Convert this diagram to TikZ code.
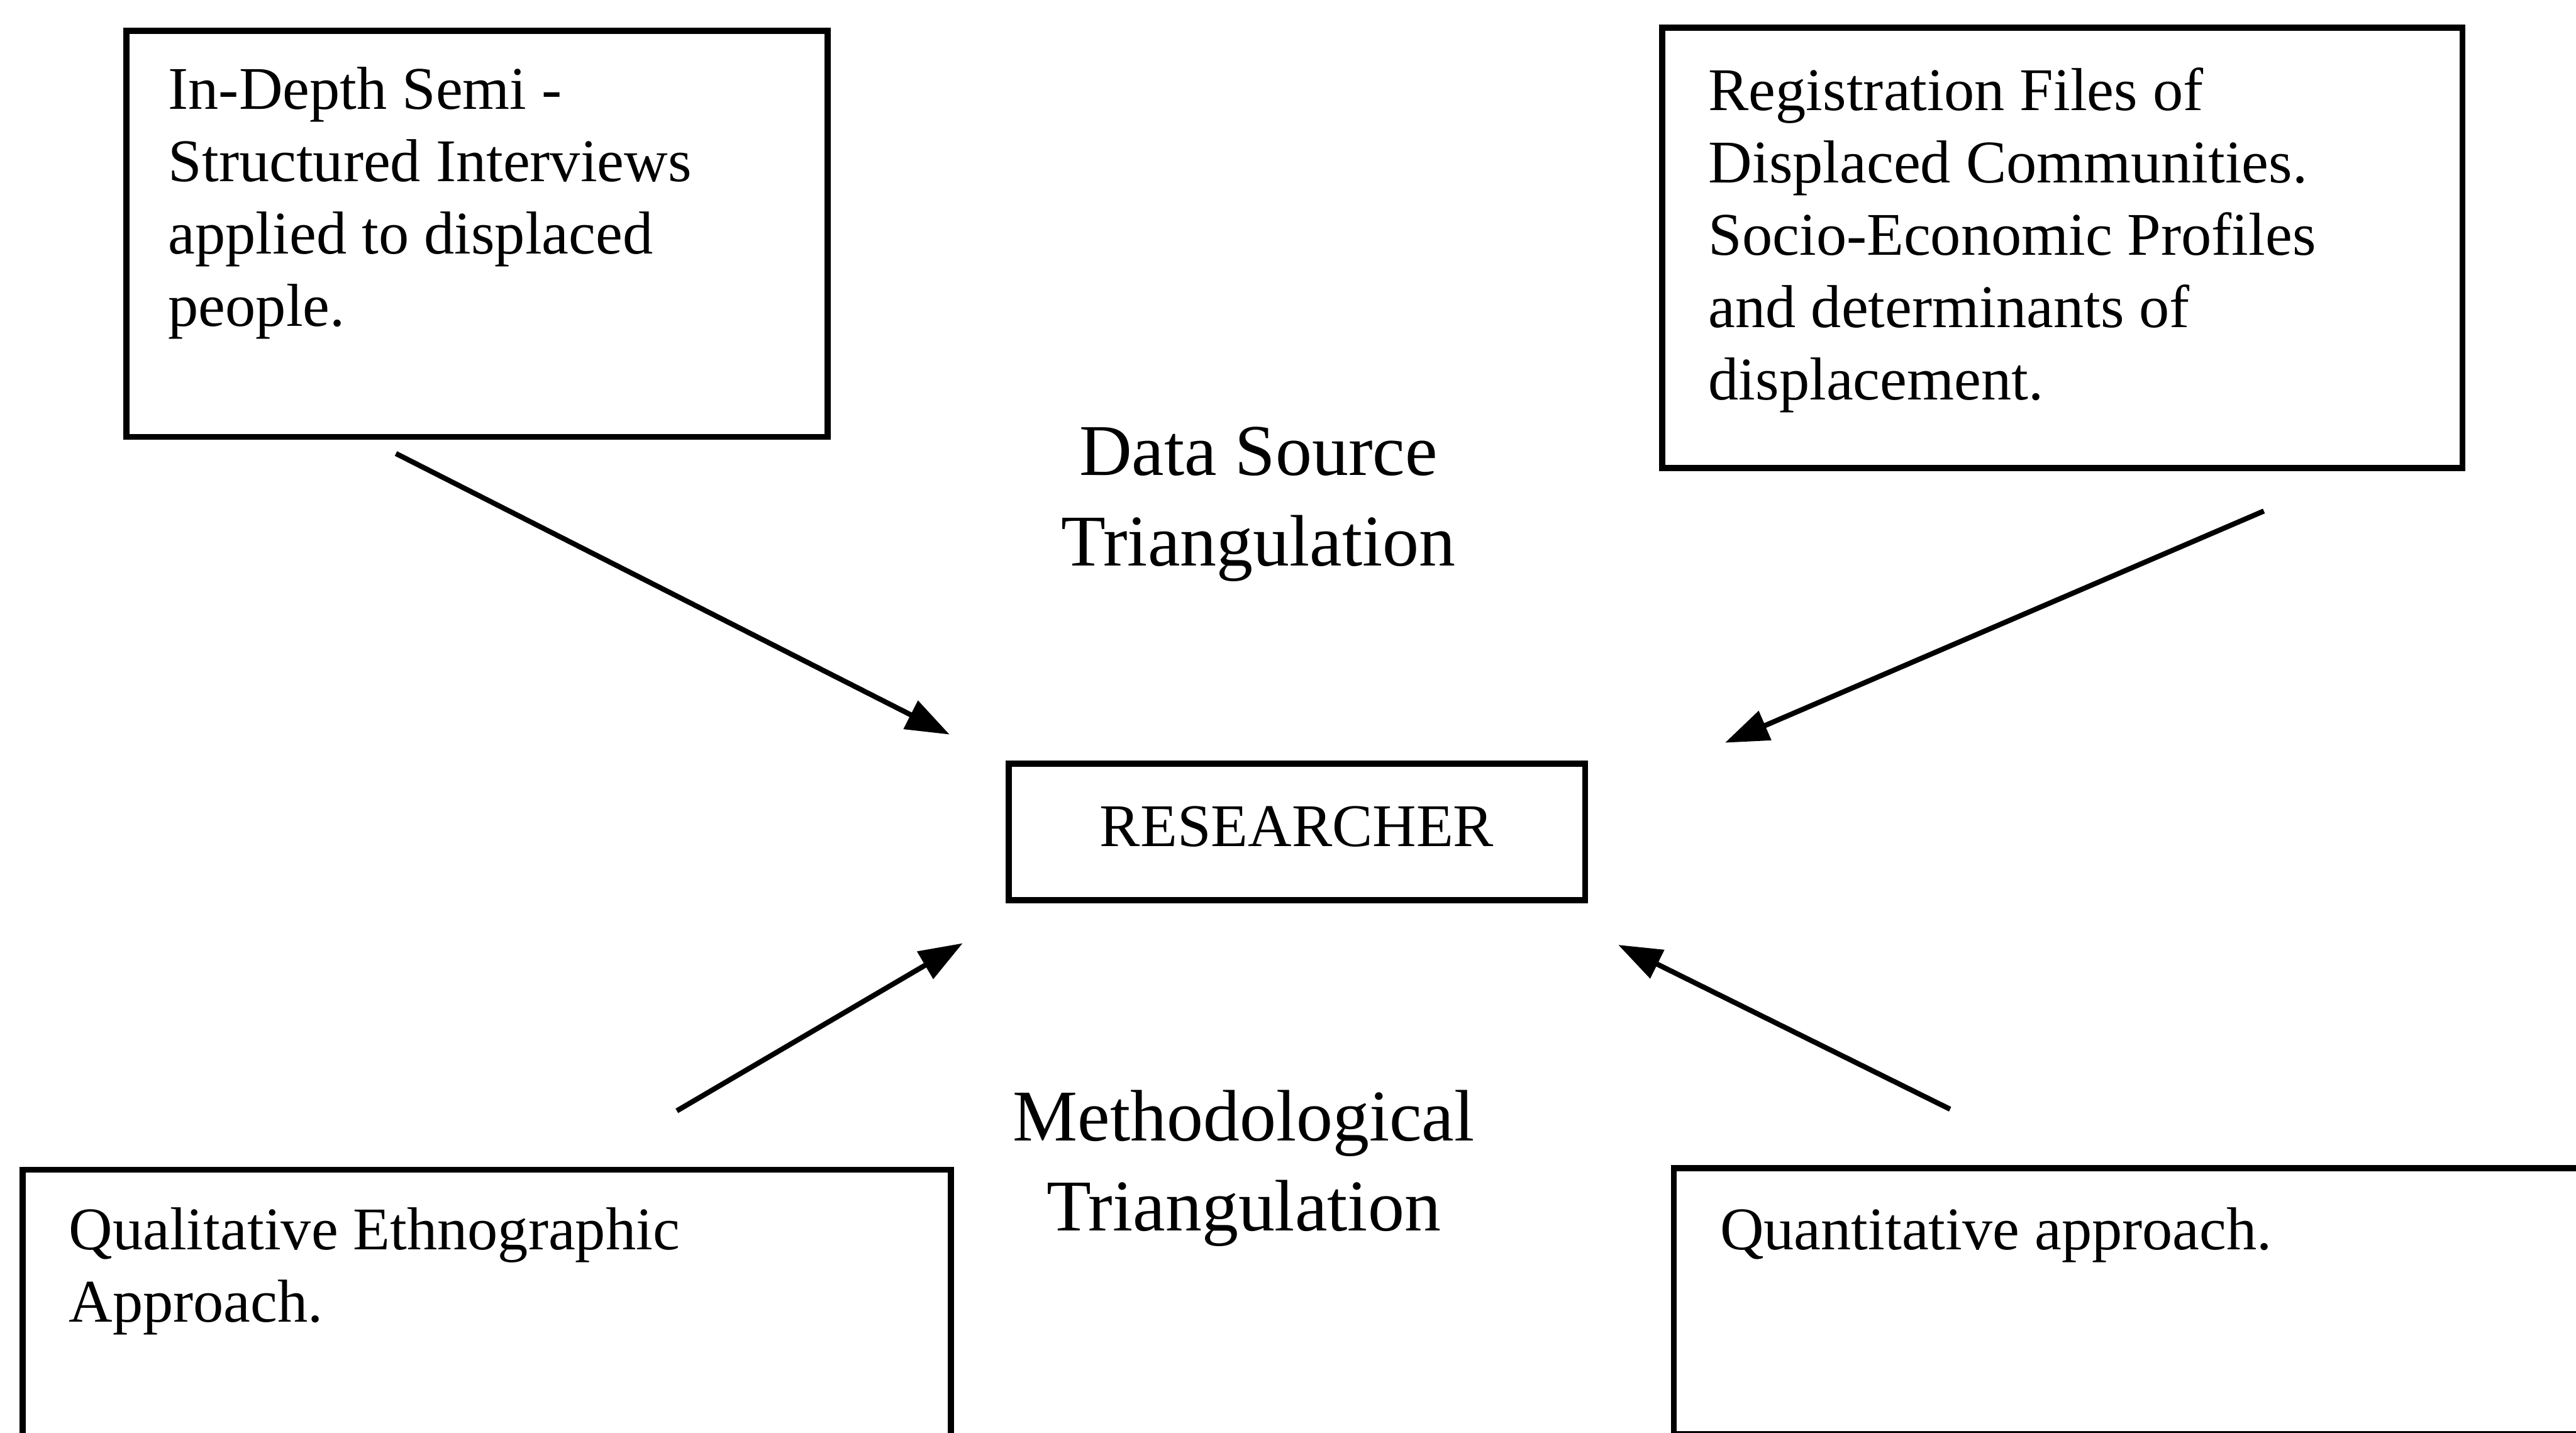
\documentclass[tikz,border=0pt]{standalone}
\usepackage{fontspec}
\setmainfont{Liberation Serif}
\usepackage{tikz}
\usetikzlibrary{positioning, arrows.meta}

\begin{document}
\begin{tikzpicture}[x=0.32pt, y=-0.32pt, >={Triangle[length=8.5pt, width=6pt]},
    frame/.style 2 args={draw, line width=1.2pt, anchor=north west, inner sep=0pt,
      minimum width=#1*0.32pt, minimum height=#2*0.32pt},
    boxtext/.style={align=left, inner sep=0pt, font=\fontsize{11.8}{14.1}\selectfont},
    heading/.style={align=center, inner sep=0pt, font=\fontsize{14.2}{17.6}\selectfont},
    link/.style={->, line width=1pt}]
  \useasboundingbox (0,0) rectangle (1568,872);

  % data sources (top)
  \node[frame={427}{247}] (interviews) at (75,17) {};
  \node[boxtext, below right=7.4pt and 8.6pt of interviews.north west] (interviewstxt)
    {In-Depth Semi -\\Structured Interviews\\applied to displaced\\people.};
  \node[frame={487}{268}] (registers) at (1010,15) {};
  \node[boxtext, below right=8.2pt and 9.4pt of registers.north west] (registerstxt)
    {Registration Files of\\Displaced Communities.\\Socio-Economic Profiles\\and determinants of\\displacement.};

  % methods (bottom, running off the page)
  \node[frame={565}{190}] (qual) at (12,710) {};
  \node[boxtext, below right=7.8pt and 9.4pt of qual.north west] (qualtxt)
    {Qualitative Ethnographic\\Approach.};
  \node[frame={580}{162}] (quant) at (1017,709) {};
  \node[boxtext, below right=8.1pt and 9.4pt of quant.north west] (quanttxt)
    {Quantitative approach.};

  % centre
  \node[frame={351}{83}] (researcher) at (612,463) {};
  \node[boxtext] (researchertxt) at ([yshift=1.1pt]researcher.center) {RESEARCHER};

  \node[heading] (datasrc) at (766,307) {Data Source\\Triangulation};
  \node[heading] (method) at (757,711) {Methodological\\Triangulation};

  % arrows towards the researcher
  \coordinate (int1) at (241,276);   \coordinate (int2) at (578,447);
  \coordinate (reg1) at (1378,311);  \coordinate (reg2) at (1050,452);
  \coordinate (qual1) at (412,676);  \coordinate (qual2) at (586,574);
  \coordinate (quant1) at (1187,675); \coordinate (quant2) at (985,575);
  \path (int1) edge[link] (int2)
        (reg1) edge[link] (reg2)
        (qual1) edge[link] (qual2)
        (quant1) edge[link] (quant2);
\end{tikzpicture}
\end{document}
